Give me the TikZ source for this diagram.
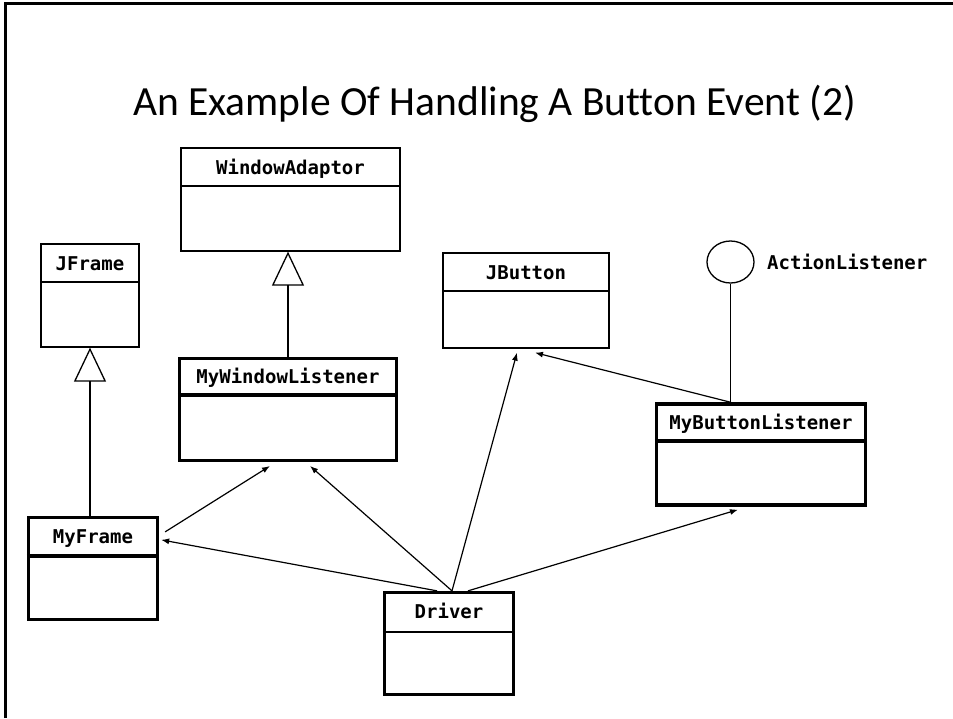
\documentclass[tikz,border=0pt]{standalone}
\usepackage{fontspec}
\setmonofont{DejaVu Sans Mono}
\newfontfamily\titlefont[Ligatures=NoCommon]{Carlito}
\usetikzlibrary{arrows.meta, calc, shapes.geometric, positioning}

\tikzset{
    classbox/.style={draw, line width=1.3pt, inner sep=0pt},
    activebox/.style={draw, line width=3.3pt, inner sep=0pt},
    classname/.style={font=\ttfamily\bfseries\fontsize{19pt}{19pt}\selectfont, anchor=base, inner sep=0pt},
    uses/.style={-{Latex[length=8pt, width=6pt]}, line width=1.2pt},
    inherits/.style={-{Triangle[open, length=34pt, width=32pt]}, line width=1.3pt},
}

\begin{document}
\begin{tikzpicture}[x=1pt, y=-1pt]
                            \useasboundingbox (0, 0) rectangle (953, 718);
                            \draw[line width=3.2pt] (5.3, 718) -- (5.3, 3.3) -- (953, 3.3);

                            \node[font=\titlefont\fontsize{41.5pt}{41.5pt}\selectfont, anchor=base, inner sep=0pt] (title) at (494.5, 115) {An Example Of Handling A Button Event (2)};

                            \node[classbox, minimum width=219pt, minimum height=103pt] (wadapt) at (290.5, 199.5) {};
                            \node[classbox, minimum width=98pt, minimum height=103pt] (jframe) at (90, 295.5) {};
                            \node[classbox, minimum width=166pt, minimum height=95pt] (jbutton) at (526, 300.5) {};
                            \node[activebox, minimum width=217pt, minimum height=102pt] (mwl) at (288, 409.3) {};
                            \node[activebox, minimum width=209pt, minimum height=101pt] (mbl) at (761, 454.5) {};
                            \node[activebox, minimum width=129pt, minimum height=102pt] (myframe) at (93, 568.5) {};
                            \node[activebox, minimum width=129pt, minimum height=102pt] (driver) at (449, 643.5) {};
                            \node[draw, ellipse, line width=1.3pt, minimum width=47pt, minimum height=42pt, inner sep=0pt] (alist) at (730.5, 262) {};

                            \draw[line width=1.3pt]
                            (wadapt.west |- 0,186) -- (wadapt.east |- 0,186)
                            (jframe.west |- 0,282) -- (jframe.east |- 0,282)
                            (jbutton.west |- 0,291) -- (jbutton.east |- 0,291);
                            \draw[line width=3.3pt]
                            (mwl.west |- 0,395) -- (mwl.east |- 0,395)
                            (mbl.west |- 0,441) -- (mbl.east |- 0,441)
                            (myframe.west |- 0,556) -- (myframe.east |- 0,556);
                            \draw[line width=1.6pt] (driver.west |- 0,632) -- (driver.east |- 0,632);

                            \node[classname] (wadaptT) at (290.5, 174) {WindowAdaptor};
                            \node[classname] (jframeT) at (90, 270) {JFrame};
                            \node[classname] (jbuttonT) at (526, 279) {JButton};
                            \node[classname] (mwlT) at (288, 383.5) {MyWindowListener};
                            \node[classname] (mblT) at (761, 429) {MyButtonListener};
                            \node[classname] (myframeT) at (93, 543) {MyFrame};
                            \node[classname] (driverT) at (449, 618.5) {Driver};
                            \node[classname, anchor=west] (alistT) at (767, 262) {ActionListener};

                            \draw[inherits] (jframe.south |- myframe.north) -- (jframe.south);
                            \draw[inherits] (mwl.north) -- (mwl.north |- wadapt.south);
                            \draw[line width=1.3pt] (alist.south) -- (alist.south |- mbl.north);

                            \draw[uses] ($(driver.north)+(-12,0)$) -- ($(myframe.north east)+(2,24)$);
                            \draw[uses] ($(myframe.north east)+(6,16)$) -- ($(mwl.south)+(-18,4)$);
                            \draw[uses] ($(driver.north)+(3,0)$) -- ($(mwl.south)+(22,4)$);
                            \draw[uses] ($(driver.north)+(3,0)$) -- ($(jbutton.south)+(-9,4)$);
                            \draw[uses] ($(mbl.north)+(-30,0)$) -- ($(jbutton.south)+(9,4)$);
                            \draw[uses] ($(driver.north)+(19,0)$) -- ($(mbl.south)+(-23,3)$);
                        \end{tikzpicture}
\end{document}
